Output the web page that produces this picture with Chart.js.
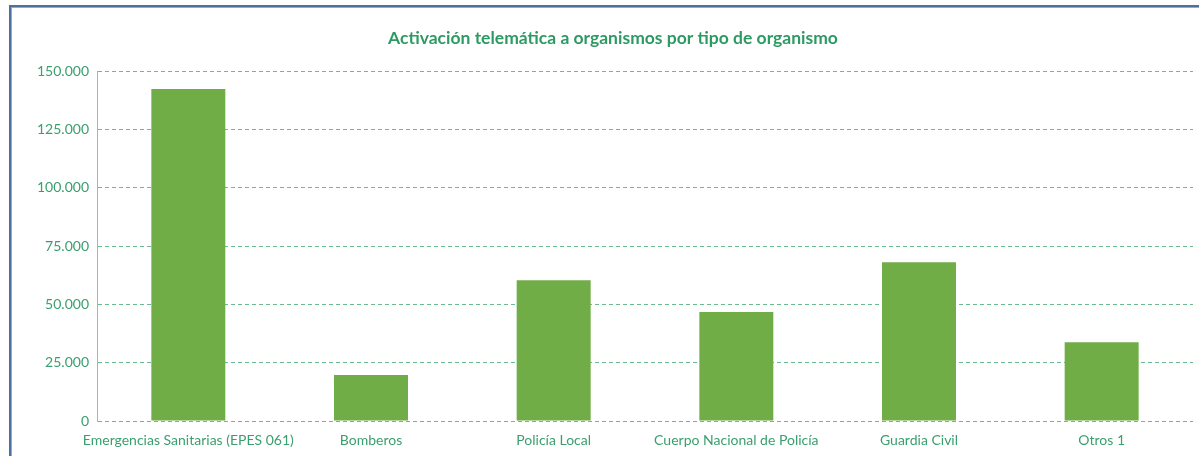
<!DOCTYPE html>
<html>
<head>
<meta charset="utf-8">
<script src="https://cdn.jsdelivr.net/npm/chart.js"></script>
<style>
  html, body { margin: 0; padding: 0; background: #fff; overflow: hidden; }
  #frame {
    position: absolute; left: 9px; top: 5px; width: 1200px; height: 460px;
    border: 2px solid #4f6fa0; box-shadow: inset 0 0 0 1px #9bbb59;
  }
  #wrap { position: absolute; left: 0; top: 0; width: 1199px; height: 456px; }
</style>
</head>
<body>
<div id="frame"></div>
<div id="wrap"><canvas id="chart"></canvas></div>
<script>
// Data
const categories = [
    'Emergencias Sanitarias (EPES 061)',
    'Bomberos',
    'Policía Local',
    'Cuerpo Nacional de Policía',
    'Guardia Civil',
    'Otros 1'
];
const activaciones = [142300, 19700, 60300, 46700, 68000, 33700];
const yTicks = [0, 25000, 50000, 75000, 100000, 125000, 150000];
const chartTitle = 'Activación telemática a organismos por tipo de organismo';

const green = '#70ad47';
const textGreen = '#3a9f6e';
const gridGreen = '#6dbb92';

function formatMiles(v) {
    return v.toLocaleString('de-DE');
}

// title is centred over the frame, not the canvas, so draw it by hand
const titlePlugin = {
    id: 'frameTitle',
    afterDraw: function(chart) {
        const c = chart.ctx;
        c.save();
        c.font = 'bold 17.5px Lato';
        c.fillStyle = '#2e9a63';
        c.textAlign = 'center';
        c.textBaseline = 'middle';
        c.fillText(chartTitle, 613, 38);
        c.restore();
    }
};

const ctx = document.getElementById('chart').getContext('2d');
new Chart(ctx, {
    type: 'bar',
    data: {
        labels: categories,
        datasets: [{
            label: 'Activación telemática',
            data: activaciones,
            backgroundColor: green,
            borderWidth: 0,
            barPercentage: 0.405,
            categoryPercentage: 1
        }]
    },
    options: {
        responsive: true,
        maintainAspectRatio: false,
        animation: false,
        layout: { padding: { left: 0, right: 6, top: 71, bottom: 0 } },
        plugins: {
            legend: { display: false },
            tooltip: { enabled: false },
            title: { display: false }
        },
        scales: {
            x: {
                grid: { display: false },
                border: { display: false },
                ticks: {
                    color: textGreen,
                    font: { family: 'Lato', size: 14 },
                    maxRotation: 0,
                    autoSkip: false,
                    padding: 3
                },
                afterFit: function(scale) { scale.height = 35; }
            },
            y: {
                min: 0,
                max: 150000,
                afterBuildTicks: function(scale) {
                    scale.ticks = yTicks.map(v => ({ value: v }));
                },
                grid: {
                    color: gridGreen,
                    drawTicks: false
                },
                border: { display: true, color: '#8cc7a8', dash: [4, 3] },
                ticks: {
                    color: textGreen,
                    font: { family: 'Lato', size: 14 },
                    padding: 8,
                    callback: function(value) { return formatMiles(value); }
                },
                afterFit: function(scale) { scale.width = 97; }
            }
        }
    },
    plugins: [titlePlugin]
});
</script>
</body>
</html>
